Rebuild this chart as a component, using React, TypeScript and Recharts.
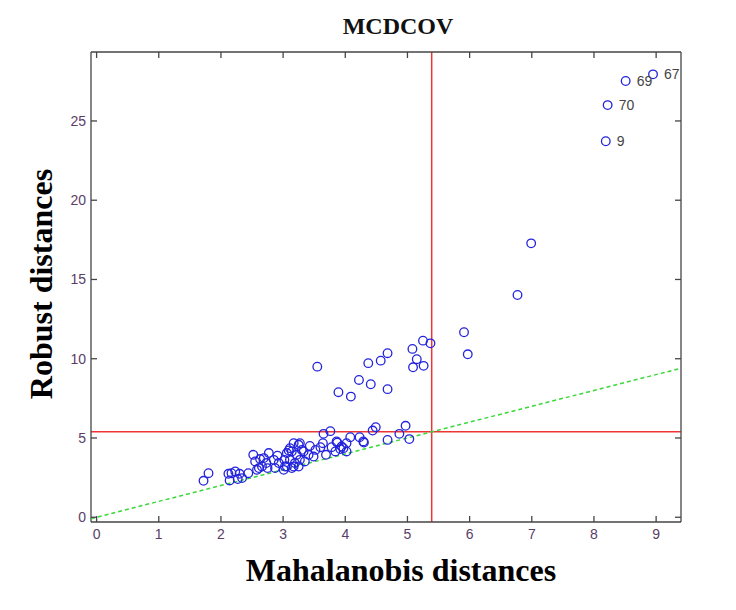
import React from 'react';
import { ScatterChart, Scatter, XAxis, YAxis, ReferenceLine } from 'recharts';

// Mahalanobis (x) and robust (y) distances
const mahalanobis = [
  6.99, 6.77, 5.91, 5.97, 5.25, 5.37, 5.08, 5.15, 5.09, 5.26,
  3.89, 4.09, 4.22, 4.41, 4.37, 4.57, 4.68, 4.68, 3.55,
  3.65, 3.76, 4.44, 4.49, 4.97, 4.87, 5.03, 4.68, 4.30, 4.23, 4.08, 4.02, 3.97, 3.87, 3.78, 3.69, 3.64, 4.02,
  4.29, 3.94, 3.92, 3.84, 3.86, 3.60,
  3.17, 3.27, 3.43, 3.06, 3.14, 3.22, 3.33, 3.41, 3.52, 3.49, 3.02, 3.11, 3.19, 3.27, 3.35, 3.06, 3.01, 3.14,
  3.25, 3.25, 3.30, 3.11, 3.17,
  1.80, 1.72, 2.14, 2.17, 2.23, 2.30, 2.34, 2.27, 2.44, 2.52, 2.55, 2.61, 2.66, 2.58, 2.63, 2.77, 2.73, 2.75,
  2.85, 2.91, 2.93, 3.03, 3.09, 2.69, 2.87, 2.12,
];
const robust = [
  17.28, 14.02, 11.67, 10.28, 11.14, 10.97, 10.62, 9.97, 9.46, 9.55,
  7.89, 7.61, 8.66, 8.39, 9.72, 9.88, 10.35, 8.08, 9.5,
  5.26, 5.43, 5.47, 5.68, 5.77, 5.26, 4.93, 4.88, 4.71, 5.05, 5.05, 4.67, 4.36, 4.71, 4.42, 3.94, 4.67, 4.15,
  4.78, 4.46, 4.30, 4.15, 4.78, 4.42,
  4.67, 4.67, 4.5, 4.05, 4.15, 3.94, 4.15, 3.94, 4.25, 3.83, 3.62, 3.62, 3.42, 3.62, 3.52, 3.20, 2.99, 3.10,
  3.20, 4.57, 4.25, 4.36, 3.20,
  2.78, 2.30, 2.32, 2.78, 2.89, 2.74, 2.47, 2.41, 2.78, 3.94, 3.52, 3.10, 3.20, 2.99, 3.67, 4.05, 3.42, 3.10,
  3.62, 3.88, 3.42, 3.20, 4.21, 3.73, 3.10, 2.74,
];

// flagged observations
const outlierIds = ['67', '69', '70', '9'];
const outlierMd = [8.95, 8.51, 8.22, 8.19];
const outlierRd = [27.94, 27.52, 26.0, 23.72];

const xTicks = [0, 1, 2, 3, 4, 5, 6, 7, 8, 9];
const yTicks = [0, 5, 10, 15, 20, 25];
const cutoff = 5.39;
const xDomain = [-0.09, 9.4];
const yDomain = [-0.3, 29.35];

const points = mahalanobis.map((x, i) => ({ x, y: robust[i] }));
const outliers = outlierIds.map((label, i) => ({ x: outlierMd[i], y: outlierRd[i], label }));
// line y = x across the plot
const diagonal = xDomain.map((v) => ({ x: v, y: v }));

const axisColor = '#454545';
const tickColor = '#5a3d68';
const tickFont = '"Liberation Sans", Arial, sans-serif';
const serif = '"Liberation Serif", "Times New Roman", serif';
const circleColor = '#2323dd';

const BottomTick = (props: any) => {
  const { x, y, payload } = props;
  return (
    <g>
      <line x1={x} y1={y} x2={x} y2={y - 6} stroke={axisColor} strokeWidth={1.3} />
      <text x={x} y={y + 17} textAnchor="middle" fontSize={14} fill={tickColor} fontFamily={tickFont}>
        {payload.value}
      </text>
    </g>
  );
};

const LeftTick = (props: any) => {
  const { x, y, payload } = props;
  return (
    <g>
      <line x1={x} y1={y} x2={x + 6} y2={y} stroke={axisColor} strokeWidth={1.3} />
      <text x={x - 5} y={y + 5} textAnchor="end" fontSize={14} fill={tickColor} fontFamily={tickFont}>
        {payload.value}
      </text>
    </g>
  );
};

const TopTick = (props: any) => {
  const { x, y } = props;
  return <line x1={x} y1={y} x2={x} y2={y + 6} stroke={axisColor} strokeWidth={1.3} />;
};

const RightTick = (props: any) => {
  const { x, y } = props;
  return <line x1={x} y1={y} x2={x - 6} y2={y} stroke={axisColor} strokeWidth={1.3} />;
};

const Ring = (p: any) => (
  <circle cx={p.cx} cy={p.cy} r={4.3} fill="none" stroke={circleColor} strokeWidth={1.3} />
);

const LabeledRing = (p: any) => (
  <g>
    <circle cx={p.cx} cy={p.cy} r={4.3} fill="none" stroke={circleColor} strokeWidth={1.3} />
    <text x={p.cx + 11} y={p.cy + 5} fontSize={14} fill="#444" fontFamily={tickFont}>
      {p.payload.label}
    </text>
  </g>
);

const Nothing = () => <g />;

const App = () => {
  return (
    <div style={{ position: 'absolute', left: 0, top: 0, width: 736, height: 610, background: '#fff' }}>
      <ScatterChart width={736} height={610} margin={{ top: 51, right: 54, bottom: 58, left: 31 }}>
        <XAxis
          xAxisId="bottom"
          type="number"
          dataKey="x"
          domain={xDomain}
          ticks={xTicks}
          interval={0}
          allowDataOverflow
          height={30}
          tickLine={false}
          tickSize={0}
          tickMargin={0}
          axisLine={{ stroke: axisColor, strokeWidth: 1.3 }}
          tick={<BottomTick />}
        />
        <XAxis
          xAxisId="top"
          orientation="top"
          type="number"
          dataKey="x"
          domain={xDomain}
          ticks={xTicks}
          interval={0}
          allowDataOverflow
          height={1}
          tickLine={false}
          tickSize={0}
          tickMargin={0}
          axisLine={{ stroke: axisColor, strokeWidth: 1.3 }}
          tick={<TopTick />}
        />
        <YAxis
          yAxisId="left"
          type="number"
          dataKey="y"
          domain={yDomain}
          ticks={yTicks}
          interval={0}
          allowDataOverflow
          width={60}
          tickLine={false}
          tickSize={0}
          tickMargin={0}
          axisLine={{ stroke: axisColor, strokeWidth: 1.3 }}
          tick={<LeftTick />}
        />
        <YAxis
          yAxisId="right"
          orientation="right"
          type="number"
          dataKey="y"
          domain={yDomain}
          ticks={yTicks}
          interval={0}
          allowDataOverflow
          width={1}
          tickLine={false}
          tickSize={0}
          tickMargin={0}
          axisLine={{ stroke: axisColor, strokeWidth: 1.3 }}
          tick={<RightTick />}
        />
        <ReferenceLine xAxisId="bottom" yAxisId="left" x={cutoff} stroke="#ee3434" strokeWidth={1.5} />
        <ReferenceLine xAxisId="bottom" yAxisId="left" y={cutoff} stroke="#ee3434" strokeWidth={1.5} />
        <Scatter
          xAxisId="top"
          yAxisId="right"
          data={diagonal}
          line={{ stroke: '#3ad83a', strokeWidth: 1.5, strokeDasharray: '4 3' }}
          lineType="joint"
          shape={<Nothing />}
          isAnimationActive={false}
        />
        <Scatter xAxisId="bottom" yAxisId="left" data={points} shape={<Ring />} isAnimationActive={false} />
        <Scatter xAxisId="bottom" yAxisId="left" data={outliers} shape={<LabeledRing />} isAnimationActive={false} />
      </ScatterChart>
      <svg
        width={736}
        height={610}
        style={{ position: 'absolute', left: 0, top: 0, pointerEvents: 'none' }}
      >
        <text x={398} y={34} textAnchor="middle" fontSize={24} fontWeight="bold" fontFamily={serif} fill="#111">
          MCDCOV
        </text>
        <text x={401} y={581} textAnchor="middle" fontSize={32} fontWeight="bold" fontFamily={serif} fill="#000">
          Mahalanobis distances
        </text>
        <text
          transform="translate(52,284) rotate(-90)"
          textAnchor="middle"
          fontSize={32}
          fontWeight="bold"
          fontFamily={serif}
          fill="#000"
        >
          Robust distances
        </text>
      </svg>
    </div>
  );
};

export default App;
